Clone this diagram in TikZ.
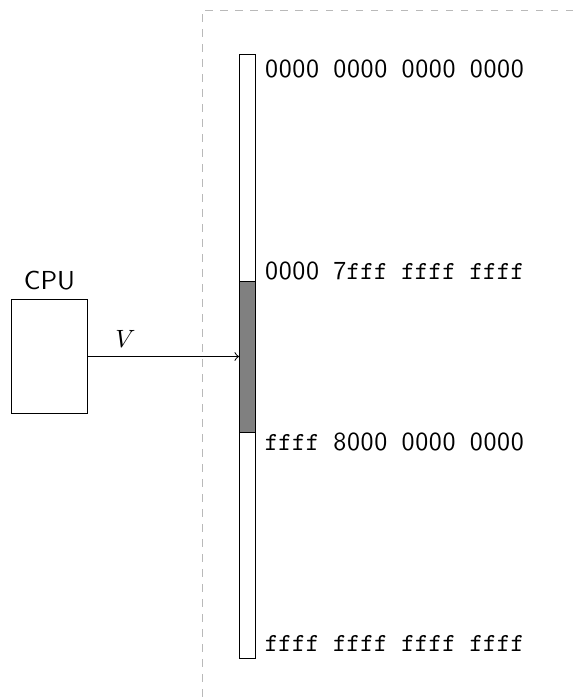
\documentclass[tikz,border=0pt]{standalone}
\usetikzlibrary{positioning}
% digits are set in sans, on the typewriter grid
\def\dd#1{\ifx#1\relax\else\makebox[0.525em]{\sffamily#1}\expandafter\dd\fi}
\tikzset{
  box/.style={draw,fill=white,line width=0.4pt},
  addr/.style={anchor=west,font=\ttfamily\fontsize{10.4}{12.5}\selectfont},
  border/.style={draw=gray!55,dashed,line width=0.4pt},
}

\begin{document}
\begin{tikzpicture}[x=0.4pt,y=-0.4pt,font=\sffamily\fontsize{10.4}{12.5}\selectfont]
  \useasboundingbox (0,0) rectangle (573,700);

  % address space boundary
  \draw[border] (573,10) -- (202,10) -- (202,700);

  % the memory bar and the shaded half
  \node[box,anchor=north west,minimum width=6.4pt,minimum height=241.6pt,inner sep=0pt]
    (mem) at (239,54) {};
  \node[box,fill=gray,anchor=north west,minimum width=6.4pt,minimum height=60.4pt,inner sep=0pt]
    (kern) at (239,281) {};

  \node[addr] (a0) at (256,69) {\dd0000\relax\ \dd0000\relax\ \dd0000\relax\ \dd0000\relax};
  \node[addr] (a1) at (256,271) {\dd0000\relax\ \dd7\relax fff ffff ffff};
  \node[addr] (a2) at (256,442) {ffff \dd8000\relax\ \dd0000\relax\ \dd0000\relax};
  \node[addr] (a3) at (256,643) {ffff ffff ffff ffff};

  % processor
  \node[box,minimum width=30pt,minimum height=45.6pt,inner sep=0pt] (cpu) at (49.5,356.5) {};
  \node[above=0pt of cpu] (cpulabel) {CPU};

  \draw[->] (cpu.east) -- node[pos=0.25,above] {$V$} (cpu.east -| kern.west);
\end{tikzpicture}
\end{document}
